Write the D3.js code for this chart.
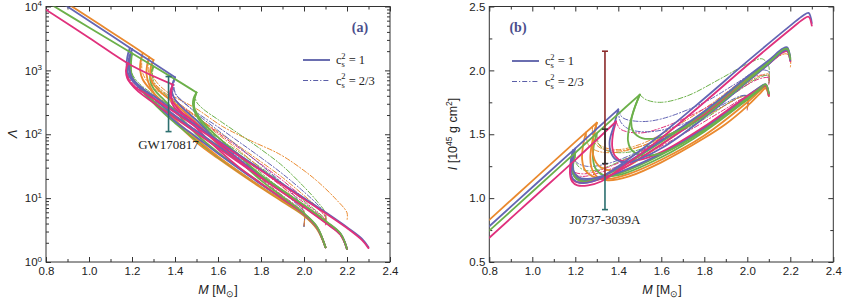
<!DOCTYPE html>
<html>
<head>
<meta charset="utf-8">
<script src="https://cdn.jsdelivr.net/npm/d3@7"></script>
<style>
  body { margin: 0; background: #fff; }
  svg { display: block; }
</style>
</head>
<body>
<svg id="fig" width="843" height="301"></svg>
<script>
// ---- data ----
const massMajor = [0.8, 1.0, 1.2, 1.4, 1.6, 1.8, 2.0, 2.2, 2.4];
const massMinor = [0.9, 1.1, 1.3, 1.5, 1.7, 1.9, 2.1, 2.3];
const lambdaDecades = [1, 10, 100, 1000, 10000];
const inertiaMajor = [0.5, 1.0, 1.5, 2.0, 2.5];
const inertiaMinor = [0.75, 1.25, 1.75, 2.25];
const eosKeys = ["E1", "E2", "E3", "E4"];
const cs2Labels = ["1", "2/3"];

// (a) tidal deformability, [M, Lambda]
const lamHadE1 = [[0.8, 18500], [1.0, 6700], [1.2, 2450], [1.3, 1450]];
const lamHadE2 = [[0.8, 16500], [1.0, 6000], [1.2, 2150], [1.4, 780]];
const lamHadE3 = [[0.8, 12000], [1.0, 4700], [1.2, 1850], [1.4, 730], [1.5, 450]];
const lamHadE4 = [[0.8, 8900], [1.0, 3250], [1.2, 1180], [1.39, 600]];

const lamB1 = [[1.19, 2250], [1.178, 1600], [1.176, 1100], [1.19, 780], [1.23, 560], [1.3, 400], [1.4, 230], [1.5, 135], [1.6, 80], [1.8, 28], [2.0, 10], [2.1, 6.0], [2.2, 3.5], [2.27, 2.3], [2.3, 1.7]];
const lamM1 = [[1.18, 1300], [1.172, 1000], [1.178, 750], [1.21, 560], [1.27, 420], [1.4, 220], [1.5, 128], [1.6, 76], [1.8, 27], [2.0, 9.6], [2.1, 5.8], [2.2, 3.4], [2.27, 2.2], [2.3, 1.65]];
const lamG1 = [[1.2, 1850], [1.19, 1350], [1.19, 950], [1.205, 700], [1.25, 500], [1.3, 330], [1.4, 185], [1.5, 107], [1.6, 63], [1.8, 21.5], [2.0, 7.4], [2.1, 4.2], [2.17, 2.7], [2.2, 1.6]];
const lamB2 = [[1.2, 2150], [1.188, 1500], [1.188, 1050], [1.2, 760], [1.25, 520], [1.32, 320], [1.4, 195], [1.6, 66], [1.8, 22.5], [2.0, 7.6], [2.1, 4.3], [2.17, 2.75], [2.2, 1.6]];
const lamM2 = [[1.18, 1300], [1.176, 950], [1.185, 700], [1.22, 500], [1.3, 310], [1.4, 180], [1.6, 61], [1.8, 21], [2.0, 7.2], [2.1, 4.1], [2.17, 2.65], [2.2, 1.6]];
const lamO1 = [[1.3, 1450], [1.288, 1150], [1.285, 850], [1.295, 640], [1.33, 470], [1.4, 300], [1.5, 150], [1.6, 70], [1.8, 22], [2.0, 7.6], [2.1, 4.3], [2.17, 2.7], [2.2, 1.6]];
const lamO2 = [[1.25, 1880], [1.24, 1400], [1.238, 1000], [1.25, 720], [1.29, 480], [1.35, 300], [1.4, 170], [1.5, 85], [1.6, 45], [1.8, 15], [2.0, 5.5], [2.06, 3.4], [2.1, 1.7]];
const lamG2 = [[1.3, 1160], [1.287, 900], [1.285, 700], [1.3, 520], [1.34, 370], [1.4, 230], [1.5, 100], [1.6, 52], [1.8, 17], [1.9, 9.8], [2.0, 5.6], [2.06, 3.5], [2.1, 1.7]];
const lamB3 = [[1.4, 780], [1.388, 610], [1.386, 460], [1.4, 350], [1.44, 250], [1.5, 165], [1.6, 76], [1.7, 40], [1.8, 22], [2.0, 7.5], [2.1, 4.3], [2.17, 2.75], [2.2, 1.6]];
const lamM3 = [[1.39, 600], [1.378, 470], [1.378, 360], [1.395, 270], [1.45, 185], [1.5, 125], [1.6, 58], [1.7, 30], [1.8, 17], [1.9, 9.8], [2.0, 5.6], [2.06, 3.5], [2.1, 1.7]];
const lamG3 = [[1.5, 450], [1.486, 360], [1.484, 280], [1.495, 210], [1.53, 140], [1.6, 78], [1.7, 38], [1.8, 19], [1.9, 10.5], [2.0, 5.8], [2.06, 3.6], [2.1, 1.7]];
const lamG4 = [[1.5, 450], [1.49, 340], [1.49, 260], [1.51, 190], [1.55, 130], [1.6, 90], [1.7, 45], [1.8, 23], [2.0, 7.8], [2.1, 4.4], [2.17, 2.8], [2.2, 1.6]];
const lamO3 = [[1.28, 1610], [1.27, 1200], [1.268, 850], [1.28, 600], [1.31, 400], [1.36, 240], [1.4, 160], [1.5, 75], [1.6, 42], [1.8, 14.5], [1.9, 8.8], [2.0, 5.3], [2.06, 3.3], [2.1, 1.7]];
const lamG5 = [[1.2, 1850], [1.195, 1200], [1.2, 820], [1.23, 560], [1.28, 360], [1.35, 210], [1.4, 150], [1.5, 80], [1.6, 44], [1.8, 15], [2.0, 5.4], [2.06, 3.4], [2.1, 1.7]];
const lamB4 = [[1.2, 2150], [1.185, 1400], [1.19, 900], [1.22, 600], [1.28, 380], [1.4, 160], [1.5, 90], [1.6, 50], [1.8, 16.5], [2.0, 5.7], [2.06, 3.5], [2.1, 1.7]];
const lamM4 = [[1.39, 600], [1.382, 450], [1.388, 330], [1.42, 240], [1.5, 145], [1.6, 72], [1.7, 38], [1.8, 21], [2.0, 7.3], [2.1, 4.2], [2.17, 2.7], [2.2, 1.6]];

const lamDO1 = [[1.3, 1450], [1.292, 1150], [1.295, 850], [1.32, 620], [1.38, 420], [1.5, 250], [1.62, 133], [1.75, 80], [1.89, 48], [2.0, 27], [2.07, 17.4], [2.15, 9.5], [2.2, 5.9], [2.2, 4.5]];
const lamDG1 = [[1.5, 450], [1.495, 380], [1.5, 320], [1.53, 250], [1.6, 170], [1.7, 100], [1.8, 58], [1.9, 32], [2.0, 15], [2.06, 9], [2.1, 5.8], [2.1, 4.2]];
const lamDB1 = [[1.4, 780], [1.392, 620], [1.395, 480], [1.42, 360], [1.5, 220], [1.6, 130], [1.7, 75], [1.8, 43], [1.9, 24], [2.0, 12.5], [2.07, 7.5], [2.1, 5.5], [2.1, 4.2]];
const lamDM1 = [[1.39, 600], [1.386, 480], [1.395, 380], [1.43, 280], [1.5, 190], [1.6, 105], [1.7, 60], [1.8, 34], [1.9, 19], [2.0, 10], [2.07, 6.5], [2.1, 5], [2.1, 4.0]];
const lamDG2 = [[1.3, 1160], [1.295, 880], [1.3, 680], [1.33, 500], [1.4, 320], [1.5, 170], [1.6, 90], [1.7, 48], [1.8, 25], [1.9, 13], [1.97, 8], [2.0, 6], [2.0, 3.6]];
const lamDM2 = [[1.18, 1300], [1.178, 950], [1.19, 700], [1.23, 500], [1.3, 340], [1.4, 200], [1.5, 115], [1.6, 65], [1.7, 36], [1.8, 20], [1.9, 11], [1.97, 7.3], [2.0, 5.8], [2.0, 3.6]];
const lamDB2 = [[1.19, 2250], [1.183, 1500], [1.187, 1000], [1.21, 700], [1.26, 500], [1.35, 320], [1.5, 140], [1.6, 78], [1.7, 42], [1.8, 23], [1.9, 12.5], [1.97, 7.8], [2.0, 6], [2.0, 3.6]];
const lamDO2 = [[1.25, 1880], [1.245, 1300], [1.25, 900], [1.28, 620], [1.35, 400], [1.45, 240], [1.6, 110], [1.7, 64], [1.8, 37], [1.9, 21], [2.0, 11], [2.07, 6.8], [2.1, 5.2], [2.1, 4.0]];
const lamDG3 = [[1.2, 1850], [1.195, 1300], [1.2, 900], [1.23, 640], [1.3, 420], [1.4, 250], [1.5, 150], [1.6, 88], [1.7, 52], [1.8, 30], [1.9, 17], [2.0, 9], [2.07, 5.8], [2.1, 4.6], [2.1, 3.9]];
const lamDB3 = [[1.4, 780], [1.395, 560], [1.405, 420], [1.45, 300], [1.5, 210], [1.6, 115], [1.7, 62], [1.8, 33], [1.9, 17], [1.97, 9.5], [2.0, 6.2], [2.0, 3.6]];
const lamDO3 = [[1.28, 1610], [1.275, 1200], [1.28, 850], [1.31, 600], [1.38, 380], [1.5, 190], [1.6, 100], [1.7, 55], [1.8, 29], [1.9, 15], [1.97, 8.5], [2.0, 6.2], [2.0, 3.6]];
const lamDM3 = [[1.18, 1300], [1.176, 1000], [1.185, 760], [1.22, 560], [1.3, 380], [1.4, 240], [1.5, 140], [1.6, 82], [1.7, 48], [1.8, 27], [1.9, 15], [2.0, 8.5], [2.07, 5.6], [2.1, 4.5], [2.1, 3.8]];

// (b) moment of inertia, [M, I / 1e45 g cm^2]
const inHadE1 = [[0.8, 0.83], [1.0, 1.135], [1.2, 1.44], [1.3, 1.59]];
const inHadE2 = [[0.8, 0.78], [1.0, 1.085], [1.2, 1.39], [1.4, 1.695]];
const inHadE3 = [[0.8, 0.745], [1.0, 1.05], [1.2, 1.355], [1.4, 1.66], [1.5, 1.81]];
const inHadE4 = [[0.8, 0.69], [1.0, 0.995], [1.2, 1.3], [1.39, 1.6]];

const inB1 = [[1.19, 1.375], [1.178, 1.28], [1.178, 1.2], [1.19, 1.15], [1.22, 1.12], [1.28, 1.13], [1.4, 1.25], [1.6, 1.5], [1.8, 1.78], [2.0, 2.07], [2.2, 2.35], [2.26, 2.43], [2.285, 2.45], [2.3, 2.37]];
const inM1 = [[1.18, 1.27], [1.175, 1.2], [1.185, 1.13], [1.21, 1.1], [1.26, 1.1], [1.32, 1.13], [1.4, 1.22], [1.6, 1.47], [1.8, 1.75], [2.0, 2.04], [2.2, 2.32], [2.26, 2.4], [2.285, 2.42], [2.3, 2.35]];
const inG1 = [[1.2, 1.355], [1.19, 1.27], [1.19, 1.2], [1.205, 1.15], [1.24, 1.13], [1.3, 1.15], [1.4, 1.23], [1.6, 1.44], [1.8, 1.67], [2.0, 1.94], [2.1, 2.07], [2.165, 2.16], [2.185, 2.17], [2.2, 2.09]];
const inB2 = [[1.2, 1.39], [1.188, 1.3], [1.19, 1.22], [1.21, 1.17], [1.25, 1.15], [1.32, 1.17], [1.4, 1.24], [1.6, 1.45], [1.8, 1.68], [2.0, 1.95], [2.1, 2.08], [2.165, 2.17], [2.185, 2.18], [2.2, 2.1]];
const inM2 = [[1.18, 1.27], [1.178, 1.19], [1.19, 1.14], [1.23, 1.12], [1.3, 1.14], [1.4, 1.21], [1.6, 1.42], [1.8, 1.65], [2.0, 1.92], [2.1, 2.05], [2.165, 2.14], [2.185, 2.15], [2.2, 2.07]];
const inO1 = [[1.3, 1.59], [1.285, 1.48], [1.28, 1.38], [1.29, 1.3], [1.32, 1.24], [1.4, 1.22], [1.6, 1.42], [1.8, 1.66], [2.0, 1.93], [2.1, 2.06], [2.165, 2.15], [2.185, 2.16], [2.2, 2.08]];
const inO2 = [[1.3, 1.59], [1.28, 1.45], [1.27, 1.33], [1.275, 1.24], [1.3, 1.17], [1.35, 1.14], [1.45, 1.17], [1.6, 1.28], [1.8, 1.47], [1.9, 1.58], [2.0, 1.72], [2.06, 1.82], [2.085, 1.86], [2.1, 1.8]];
const inG2 = [[1.3, 1.505], [1.285, 1.4], [1.283, 1.3], [1.295, 1.23], [1.33, 1.18], [1.4, 1.18], [1.6, 1.32], [1.8, 1.52], [2.0, 1.77], [2.06, 1.85], [2.085, 1.88], [2.1, 1.81]];
const inB3 = [[1.4, 1.695], [1.38, 1.57], [1.36, 1.45], [1.365, 1.36], [1.39, 1.3], [1.45, 1.28], [1.6, 1.39], [1.8, 1.63], [2.0, 1.91], [2.1, 2.05], [2.165, 2.15], [2.185, 2.16], [2.2, 2.08]];
const inM3 = [[1.39, 1.6], [1.375, 1.5], [1.372, 1.4], [1.385, 1.33], [1.42, 1.29], [1.5, 1.3], [1.6, 1.36], [1.8, 1.56], [2.0, 1.8], [2.06, 1.86], [2.085, 1.88], [2.1, 1.8]];
const inG3 = [[1.5, 1.81], [1.475, 1.7], [1.46, 1.6], [1.47, 1.52], [1.51, 1.47], [1.58, 1.47], [1.72, 1.56], [1.8, 1.64], [2.0, 1.92], [2.1, 2.06], [2.165, 2.16], [2.185, 2.17], [2.2, 2.09]];
const inG4 = [[1.5, 1.81], [1.47, 1.68], [1.45, 1.55], [1.445, 1.45], [1.46, 1.38], [1.5, 1.34], [1.6, 1.35], [1.8, 1.53], [2.0, 1.78], [2.06, 1.86], [2.085, 1.89], [2.1, 1.82]];
const inO3 = [[1.25, 1.515], [1.235, 1.4], [1.232, 1.3], [1.245, 1.22], [1.28, 1.17], [1.35, 1.15], [1.45, 1.19], [1.6, 1.3], [1.8, 1.49], [2.0, 1.75], [2.06, 1.84], [2.085, 1.87], [2.1, 1.8]];
const inG5 = [[1.2, 1.355], [1.19, 1.26], [1.195, 1.19], [1.22, 1.15], [1.28, 1.14], [1.4, 1.19], [1.6, 1.34], [1.8, 1.54], [2.0, 1.79], [2.06, 1.87], [2.085, 1.89], [2.1, 1.82]];
const inB4 = [[1.19, 1.375], [1.18, 1.28], [1.185, 1.2], [1.21, 1.15], [1.27, 1.14], [1.4, 1.2], [1.6, 1.35], [1.8, 1.55], [2.0, 1.8], [2.06, 1.87], [2.085, 1.89], [2.1, 1.82]];

const inDO1 = [[1.3, 1.59], [1.295, 1.5], [1.3, 1.44], [1.33, 1.4], [1.4, 1.38], [1.5, 1.42], [1.6, 1.5], [1.8, 1.7], [2.0, 1.95], [2.1, 2.06], [2.18, 2.13], [2.2, 2.1], [2.2, 2.02]];
const inDG1 = [[1.5, 1.81], [1.53, 1.77], [1.6, 1.75], [1.72, 1.8], [1.87, 1.93], [2.0, 2.05], [2.07, 2.09], [2.1, 2.03], [2.1, 1.95]];
const inDB1 = [[1.4, 1.695], [1.42, 1.63], [1.5, 1.6], [1.6, 1.62], [1.8, 1.75], [1.95, 1.9], [2.05, 2.0], [2.1, 1.99], [2.1, 1.93]];
const inDM1 = [[1.39, 1.6], [1.41, 1.54], [1.5, 1.51], [1.6, 1.55], [1.8, 1.7], [1.95, 1.86], [2.05, 1.96], [2.1, 1.95], [2.1, 1.9]];
const inDG2 = [[1.3, 1.505], [1.31, 1.42], [1.35, 1.37], [1.45, 1.36], [1.6, 1.45], [1.8, 1.62], [1.95, 1.78], [2.0, 1.8], [2.0, 1.7]];
const inDM2 = [[1.18, 1.27], [1.19, 1.2], [1.23, 1.17], [1.35, 1.22], [1.5, 1.32], [1.7, 1.5], [1.9, 1.7], [1.98, 1.78], [2.0, 1.78], [2.0, 1.69]];
const inDB2 = [[1.19, 1.375], [1.2, 1.29], [1.25, 1.25], [1.35, 1.27], [1.5, 1.37], [1.7, 1.55], [1.9, 1.73], [1.98, 1.8], [2.0, 1.8], [2.0, 1.7]];
const inDO2 = [[1.25, 1.515], [1.26, 1.42], [1.3, 1.37], [1.4, 1.36], [1.6, 1.47], [1.8, 1.66], [1.95, 1.84], [2.05, 1.95], [2.1, 1.97], [2.1, 1.92]];
const inDG3 = [[1.2, 1.355], [1.205, 1.27], [1.24, 1.22], [1.3, 1.22], [1.45, 1.32], [1.6, 1.45], [1.8, 1.65], [1.95, 1.83], [2.05, 1.94], [2.1, 1.96], [2.1, 1.9]];
const inDB3 = [[1.4, 1.695], [1.41, 1.6], [1.45, 1.54], [1.55, 1.52], [1.7, 1.58], [1.85, 1.7], [1.97, 1.8], [2.0, 1.8], [2.0, 1.7]];
const inDO3 = [[1.28, 1.56], [1.285, 1.45], [1.32, 1.39], [1.4, 1.37], [1.55, 1.43], [1.7, 1.55], [1.85, 1.68], [1.97, 1.79], [2.0, 1.79], [2.0, 1.7]];
const inDM3 = [[1.18, 1.27], [1.19, 1.21], [1.24, 1.19], [1.35, 1.24], [1.5, 1.36], [1.7, 1.56], [1.9, 1.78], [2.05, 1.93], [2.1, 1.94], [2.1, 1.89]];

// [eos, cs2, points]
const lambdaSeries = [
  ["E1", "2/3", lamDO1], ["E3", "2/3", lamDG1], ["E2", "2/3", lamDB1], ["E4", "2/3", lamDM1],
  ["E3", "2/3", lamDG2], ["E4", "2/3", lamDM2], ["E2", "2/3", lamDB2], ["E1", "2/3", lamDO2],
  ["E3", "2/3", lamDG3], ["E2", "2/3", lamDB3], ["E1", "2/3", lamDO3], ["E4", "2/3", lamDM3],
  ["E1", "1", lamO3], ["E3", "1", lamG5], ["E1", "1", lamO2], ["E3", "1", lamG2], ["E2", "1", lamB4],
  ["E4", "1", lamM3], ["E3", "1", lamG3], ["E1", "1", lamO1], ["E3", "1", lamG1], ["E2", "1", lamB2],
  ["E4", "1", lamM2], ["E2", "1", lamB3], ["E4", "1", lamM4], ["E3", "1", lamG4],
  ["E2", "1", lamB1], ["E4", "1", lamM1],
  ["E4", "1", lamHadE4], ["E3", "1", lamHadE3], ["E2", "1", lamHadE2], ["E1", "1", lamHadE1]
];
const inertiaSeries = [
  ["E1", "2/3", inDO1], ["E3", "2/3", inDG1], ["E2", "2/3", inDB1], ["E4", "2/3", inDM1],
  ["E3", "2/3", inDG2], ["E4", "2/3", inDM2], ["E2", "2/3", inDB2], ["E1", "2/3", inDO2],
  ["E3", "2/3", inDG3], ["E2", "2/3", inDB3], ["E1", "2/3", inDO3], ["E4", "2/3", inDM3],
  ["E1", "1", inO2], ["E3", "1", inG5], ["E1", "1", inO3], ["E3", "1", inG2], ["E2", "1", inB4],
  ["E4", "1", inM3], ["E3", "1", inG4], ["E1", "1", inO1], ["E3", "1", inG1], ["E2", "1", inB2],
  ["E4", "1", inM2], ["E2", "1", inB3], ["E3", "1", inG3],
  ["E2", "1", inB1], ["E4", "1", inM1],
  ["E4", "1", inHadE4], ["E3", "1", inHadE3], ["E2", "1", inHadE2], ["E1", "1", inHadE1]
];

// observational constraints
const gwMass = 1.37;
const gwLambda = [110, 800];
const psrMass = 1.338;
const psrLower = [0.91, 1.17];
const psrUpper = [1.17, 2.15];
const psrInner = [1.27, 1.54];

// ---- drawing ----
const svg = d3.select("#fig");
const eosColor = d3.scaleOrdinal().domain(eosKeys).range(["#ea8a2f", "#6466b4", "#6cb04a", "#e0317c"]);
const sans = "'Liberation Sans', Arial, sans-serif";
const serif = "'Liberation Serif', 'Times New Roman', serif";

const xA = d3.scaleLinear().domain([0.8, 2.4]).range([46, 390]);
const yA = d3.scaleLog().domain([1, 1e4]).range([262, 6.5]);
const xB = d3.scaleLinear().domain([0.8, 2.4]).range([489.3, 833.3]);
const yB = d3.scaleLinear().domain([0.5, 2.5]).range([262, 6.5]);

function lineFor(x, y) {
  return d3.line()
    .x(d => x(d[0]))
    .y(d => y(d[1]))
    .curve(d3.curveCatmullRom.alpha(0.5));
}

function styleAxis(g) {
  g.select(".domain").remove();
  g.selectAll(".tick line").attr("stroke", "#333");
  g.selectAll("text").attr("font-family", sans).attr("font-size", 11.5).attr("fill", "#222");
}

function drawFrame(id, x, y, yMajor, yMinor, yFormat) {
  const g = svg.append("g");
  const [x0, x1] = x.range();
  const [y0, y1] = y.range();
  g.append("clipPath").attr("id", id).append("rect")
    .attr("x", x0).attr("y", y1).attr("width", x1 - x0).attr("height", y0 - y1);

  // ticks inward on all four sides
  g.append("g").attr("transform", `translate(0,${y0})`)
    .call(d3.axisBottom(x).tickValues(massMinor).tickSize(-3).tickFormat("")).call(styleAxis);
  g.append("g").attr("transform", `translate(0,${y0})`)
    .call(d3.axisBottom(x).tickValues(massMajor).tickSizeInner(-5).tickSizeOuter(0).tickPadding(5).tickFormat(d3.format(".1f")))
    .call(styleAxis);
  g.append("g").attr("transform", `translate(0,${y1})`)
    .call(d3.axisTop(x).tickValues(massMinor).tickSize(-3).tickFormat("")).call(styleAxis);
  g.append("g").attr("transform", `translate(0,${y1})`)
    .call(d3.axisTop(x).tickValues(massMajor).tickSize(-5).tickFormat("")).call(styleAxis);

  g.append("g").attr("transform", `translate(${x0},0)`)
    .call(d3.axisLeft(y).tickValues(yMinor).tickSize(-3).tickFormat("")).call(styleAxis);
  const yl = g.append("g").attr("transform", `translate(${x0},0)`)
    .call(d3.axisLeft(y).tickValues(yMajor).tickSizeInner(-5).tickSizeOuter(0).tickPadding(4).tickFormat(yFormat))
    .call(styleAxis);
  g.append("g").attr("transform", `translate(${x1},0)`)
    .call(d3.axisRight(y).tickValues(yMinor).tickSize(-3).tickFormat("")).call(styleAxis);
  g.append("g").attr("transform", `translate(${x1},0)`)
    .call(d3.axisRight(y).tickValues(yMajor).tickSize(-5).tickFormat("")).call(styleAxis);

  g.append("rect").attr("x", x0).attr("y", y1).attr("width", x1 - x0).attr("height", y0 - y1)
    .attr("fill", "none").attr("stroke", "#333").attr("stroke-width", 1);
  return yl;
}

function drawCurves(series, x, y, clipId) {
  const line = lineFor(x, y);
  svg.append("g").attr("clip-path", `url(#${clipId})`)
    .selectAll("path").data(series).join("path")
    .attr("d", d => line(d[2]))
    .attr("fill", "none")
    .attr("stroke", d => eosColor(d[0]))
    .attr("stroke-width", d => d[1] === cs2Labels[0] ? 1.8 : 1.0)
    .attr("stroke-dasharray", d => d[1] === cs2Labels[0] ? null : "5,2,1.2,2")
    .attr("stroke-linejoin", "round")
    .attr("stroke-linecap", "round");
}

function errorBar(x, y, m, range, color, capTop, capBottom) {
  const g = svg.append("g").attr("stroke", color).attr("stroke-width", 1.6);
  g.append("line").attr("x1", x(m)).attr("x2", x(m)).attr("y1", y(range[0])).attr("y2", y(range[1]));
  if (capBottom) g.append("line").attr("x1", x(m) - 3).attr("x2", x(m) + 3).attr("y1", y(range[0])).attr("y2", y(range[0]));
  if (capTop) g.append("line").attr("x1", x(m) - 3).attr("x2", x(m) + 3).attr("y1", y(range[1])).attr("y2", y(range[1]));
}

function legend(x0, y0, color) {
  const g = svg.append("g");
  cs2Labels.forEach((lab, i) => {
    const yy = y0 + i * 20.5;
    g.append("line").attr("x1", x0).attr("x2", x0 + 27).attr("y1", yy).attr("y2", yy)
      .attr("stroke", color)
      .attr("stroke-width", i === 0 ? 1.8 : 1.0)
      .attr("stroke-dasharray", i === 0 ? null : "5,2,1.2,2");
    const t = g.append("text").attr("x", x0 + 33).attr("y", yy + 4)
      .attr("font-family", serif).attr("font-size", 12.5).attr("fill", "#222");
    t.append("tspan").text("c");
    t.append("tspan").attr("font-size", 8.5).attr("dy", 3).text("s");
    t.append("tspan").attr("font-size", 8.5).attr("dx", -3.6).attr("dy", -8.5).text("2");
    t.append("tspan").attr("dy", 5.5).text(" = " + lab);
  });
}

// panel (a)
const yla = drawFrame("clipA", xA, yA, lambdaDecades,
  lambdaDecades.slice(0, 4).flatMap(p => d3.range(2, 10).map(k => k * p)), d => "");
yla.selectAll(".tick text").each(function (d) {
  const t = d3.select(this).text("");
  t.append("tspan").text("10");
  t.append("tspan").attr("font-size", 8).attr("dy", "-0.55em").text(Math.round(Math.log10(d)));
});
drawCurves(lambdaSeries, xA, yA, "clipA");
errorBar(xA, yA, gwMass, gwLambda, "#2c6f6f", true, true);
svg.append("text").attr("x", xA(gwMass)).attr("y", 149).attr("text-anchor", "middle")
  .attr("font-family", serif).attr("font-size", 13).attr("fill", "#222").text("GW170817");
legend(303, 60, "#5a5ea8");
svg.append("text").attr("x", 360).attr("y", 32).attr("text-anchor", "middle")
  .attr("font-family", serif).attr("font-weight", "bold").attr("font-size", 14).attr("fill", "#4a4e8c").text("(a)");

// panel (b)
drawFrame("clipB", xB, yB, inertiaMajor, inertiaMinor, d3.format(".1f"));
drawCurves(inertiaSeries, xB, yB, "clipB");
errorBar(xB, yB, psrMass, psrLower, "#2c6f6f", false, true);
errorBar(xB, yB, psrMass, psrUpper, "#8b2a2a", true, false);
errorBar(xB, yB, psrMass, psrInner, "#333", true, true);
svg.append("text").attr("x", xB(psrMass)).attr("y", 224).attr("text-anchor", "middle")
  .attr("font-family", serif).attr("font-size", 13).attr("fill", "#222").text("J0737-3039A");
legend(512, 61, "#5a5ea8");
svg.append("text").attr("x", 518).attr("y", 32).attr("text-anchor", "middle")
  .attr("font-family", serif).attr("font-weight", "bold").attr("font-size", 14).attr("fill", "#4a4e8c").text("(b)");

// axis titles
function massTitle(cx) {
  const t = svg.append("text").attr("x", cx).attr("y", 294).attr("text-anchor", "middle")
    .attr("font-family", sans).attr("font-size", 12.5).attr("fill", "#222");
  t.append("tspan").attr("font-style", "italic").text("M");
  t.append("tspan").text(" [M");
  t.append("tspan").attr("font-size", 9).attr("dy", 3).text("\u2299");
  t.append("tspan").attr("dy", -3).text("]");
}
massTitle(218);
massTitle(662);

svg.append("text").attr("transform", "translate(17,134) rotate(-90)").attr("text-anchor", "middle")
  .attr("font-family", sans).attr("font-style", "italic").attr("font-size", 13).attr("fill", "#222").text("\u039B");

const yt = svg.append("text").attr("transform", "translate(457,134) rotate(-90)").attr("text-anchor", "middle")
  .attr("font-family", sans).attr("font-size", 12.5).attr("fill", "#222");
yt.append("tspan").attr("font-style", "italic").text("I");
yt.append("tspan").text(" [10");
yt.append("tspan").attr("font-size", 8.5).attr("dy", -5).text("45");
yt.append("tspan").attr("dy", 5).text(" g cm");
yt.append("tspan").attr("font-size", 8.5).attr("dy", -5).text("2");
yt.append("tspan").attr("dy", 5).text("]");
</script>
</body>
</html>
